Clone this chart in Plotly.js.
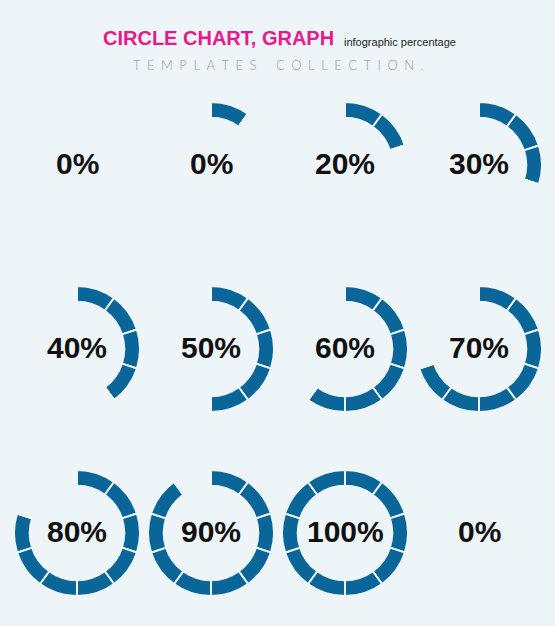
<!DOCTYPE html>
<html>
<head>
<meta charset="utf-8">
<script src="https://cdn.plot.ly/plotly-3.0.1.min.js"></script>
<style>
  html, body { margin: 0; padding: 0; background: #eef5f9; }
  #chart { width: 555px; height: 626px; }
</style>
</head>
<body>
<div id="chart"></div>
<script>
// filled segments (out of 10) and the label printed in each ring
var segments = [0, 1, 2, 3, 4, 5, 6, 7, 8, 9, 10, 0];
var labels = ['0%', '0%', '20%', '30%', '40%', '50%', '60%', '70%', '80%', '90%', '100%', '0%'];
var totalSegments = 10;

var W = 555, H = 626;
var colX = [77, 211, 345, 479];
var rowY = [165, 349, 533];
var R = 63;
var bg = '#eef5f9';
var blue = '#0a6598';

var traces = [];
var notes = [];
segments.forEach(function (n, i) {
  var cx = colX[i % 4], cy = rowY[Math.floor(i / 4)];
  var vals = [], cols = [], lines = [];
  for (var k = 0; k < totalSegments; k++) {
    vals.push(k < n ? 1 : 0);
    cols.push(blue);
    lines.push(bg);
  }
  // rest of the ring stays empty
  vals.push(totalSegments - n);
  cols.push('rgba(0,0,0,0)');
  lines.push('rgba(0,0,0,0)');

  traces.push({
    type: 'pie',
    values: vals,
    hole: 0.75,
    sort: false,
    direction: 'clockwise',
    rotation: 0,
    textinfo: 'none',
    hoverinfo: 'skip',
    showlegend: false,
    marker: { colors: cols, line: { color: lines, width: 2 } },
    domain: { x: [(cx - R) / W, (cx + R) / W], y: [1 - (cy + R) / H, 1 - (cy - R) / H] }
  });

  notes.push({
    text: labels[i],
    xref: 'paper', yref: 'paper', x: cx / W, y: 1 - cy / H,
    xanchor: 'center', yanchor: 'middle', yshift: 2, showarrow: false,
    font: { family: 'Liberation Sans, Arial, sans-serif', size: 30, weight: 'bold', color: '#111111' }
  });
});

function spaced(s) {
  return s.split('').join('\u2002');
}

var layout = {
  width: W, height: H,
  margin: { t: 0, b: 0, l: 0, r: 0 },
  paper_bgcolor: bg,
  plot_bgcolor: bg,
  showlegend: false,
  annotations: notes.concat([
    {
      text: 'CIRCLE CHART, GRAPH',
      xref: 'paper', yref: 'paper', x: 101 / W, y: 1 - 38 / H,
      xanchor: 'left', yanchor: 'middle', showarrow: false,
      font: { family: 'Liberation Sans, Arial, sans-serif', size: 20, weight: 'bold', color: '#e8198e' }
    },
    {
      text: 'infographic percentage',
      xref: 'paper', yref: 'paper', x: 342 / W, y: 1 - 42 / H,
      xanchor: 'left', yanchor: 'middle', showarrow: false,
      font: { family: 'Liberation Sans, Arial, sans-serif', size: 11, color: '#222222' }
    },
    {
      text: spaced('TEMPLATES') + '\u2002\u2002\u2002' + spaced('COLLECTION.'),
      xref: 'paper', yref: 'paper', x: 278 / W, y: 1 - 65 / H,
      xanchor: 'center', yanchor: 'middle', showarrow: false,
      font: { family: 'Lato, Open Sans, sans-serif', size: 13, weight: 300, color: '#9a9a9a' }
    }
  ])
};

Plotly.newPlot('chart', traces, layout, { displayModeBar: false, staticPlot: true });
</script>
</body>
</html>
